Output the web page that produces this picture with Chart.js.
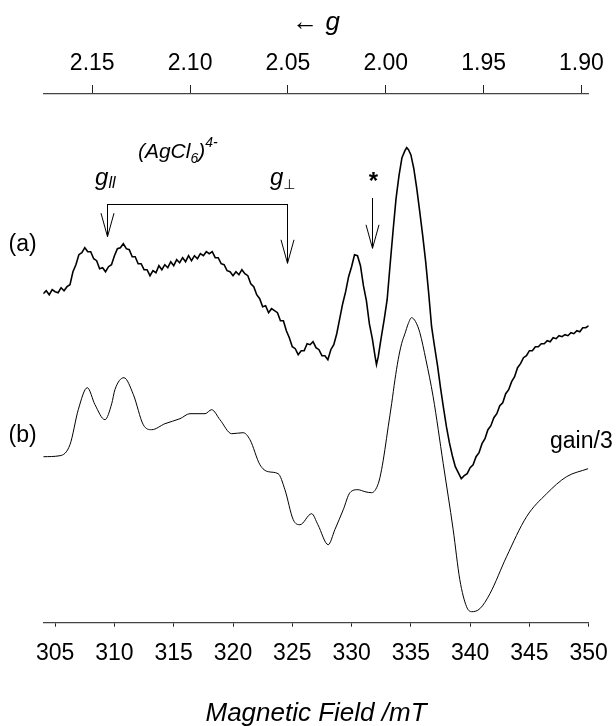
<!DOCTYPE html>
<html><head><meta charset="utf-8">
<script src="https://cdn.jsdelivr.net/npm/chart.js@4.4.0/dist/chart.umd.min.js"></script>
<style>html,body{margin:0;padding:0;background:#fff;}canvas{display:block;}</style>
</head><body>
<canvas id="c" width="616" height="726"></canvas>
<script>
// ---- tick labels ----
const fieldTicks = [305, 310, 315, 320, 325, 330, 335, 340, 345, 350];
const gTicks = [2.15, 2.10, 2.05, 2.00, 1.95, 1.90];

// ---- spectrum (a): magnetic field (mT) and signal (arbitrary units, offset) ----
const fieldA = [304.00,304.25,304.50,304.75,305.00,305.25,305.50,305.75,306.00,306.25,306.50,306.75,307.00,307.25,307.50,307.75,308.00,308.25,308.50,308.75,309.00,309.25,309.50,309.75,310.00,310.25,310.50,310.75,311.00,311.25,311.50,311.75,312.00,312.25,312.50,312.75,313.00,313.25,313.50,313.75,314.00,314.25,314.50,314.75,315.00,315.25,315.50,315.75,316.00,316.25,316.50,316.75,317.00,317.25,317.50,317.75,318.00,318.25,318.50,318.75,319.00,319.25,319.50,319.75,320.00,320.25,320.50,320.75,321.00,321.25,321.50,321.75,322.00,322.25,322.50,322.75,323.00,323.25,323.50,323.75,324.00,324.25,324.50,324.75,325.00,325.25,325.50,325.75,326.00,326.25,326.50,326.75,327.00,327.25,327.50,327.75,328.00,328.25,328.50,328.75,329.00,329.25,329.50,329.75,330.00,330.25,330.50,330.75,331.00,331.25,331.50,331.75,332.00,332.10,332.25,332.50,332.75,333.00,333.25,333.50,333.75,334.00,334.25,334.50,334.65,334.80,335.00,335.25,335.50,335.75,336.00,336.25,336.50,336.75,337.00,337.25,337.50,337.75,338.00,338.25,338.50,338.75,339.00,339.25,339.50,339.75,340.00,340.25,340.50,340.75,341.00,341.25,341.50,341.75,342.00,342.25,342.50,342.75,343.00,343.25,343.50,343.75,344.00,344.25,344.50,344.75,345.00,345.25,345.50,345.75,346.00,346.25,346.50,346.75,347.00,347.25,347.50,347.75,348.00,348.25,348.50,348.75,349.00,349.25,349.50,349.75,350.00];
const signalA = [329,332,328,333,331,330,335,332,336,
  338,351,358,368,370,375,371,371,
  364,362,354,355,351,356,358,367,
  374,375,379,374,373,366,366,359,
  359,353,353,347,352,350,357,353,
  358,355,361,357,363,360,365,361,
  367,362,367,364,369,367,371,369,
  371,365,365,359,358,352,351,347,
  351,348,353,349,347,339,336,328,
  324,316,317,310,314,312,310,302,
  302,292,285,276,274,268,272,272,
  279,278,281,275,273,267,267,263,
  273,278,289,304,319,331,346,356,
  368,367,357,337,322,299,284,265,
  258,266,285,303,323,358,392,424,447,465,472,
  475,473,
  468,454,434,411,387,361,330,296,276,
  257,235,215,196,180,167,156,150,
  144,147,149,155,158,166,170,179,
  184,193,197,205,209,217,220,229,
  233,241,246,255,259,265,267,272,
  272,276,276,279,279,282,281,285,
  284,287,286,288,287,290,289,292,
  291,295,295,297];

// ---- spectrum (b), gain/3 ----
const fieldB = [304.00,305.41,306.25,306.95,307.71,308.36,309.20,309.77,310.04,310.80,311.60,312.43,313.14,314.26,315.53,316.37,317.64,318.20,318.90,319.89,320.86,321.43,322.27,322.97,323.81,324.38,325.08,325.65,326.63,327.16,328.03,328.59,329.30,329.86,330.53,331.13,331.69,332.25,332.53,332.81,333.09,333.38,333.66,333.93,334.22,334.50,334.78,335.06,335.40,335.76,336.27,336.88,337.73,338.57,339.13,339.70,340.12,340.82,341.67,343.07,344.76,346.45,348.13,349.95];
const signalB = [166,167,178,213,235,218,203,219,233,245,228,198,193,199,204,209,209,213,203,189,190,183,158,151,149,133,103,98,109,98,78,93,113,130,133,131,130,139,153,173,196,219,243,263,279,289,299,305,301,290,263,226,159,93,43,16,11,14,29,66,106,129,146,154];

const FONT = '"Liberation Sans", Arial, Helvetica, sans-serif';

// annotation definitions (data coordinates: field mT, signal units)
const annotations = {
  traceLabels: [
    { text: '(a)', x: 302.25, y: 378 },
    { text: '(b)', x: 302.25, y: 187 },
    { text: 'gain/3', x: 349.38, y: 181 }
  ],
  bracket: { xL: 309.35, xR: 324.52, y: 418.7, tipL: 386, tipR: 359.4, head: 23.5 },
  star: { x: 331.76, top: 424.7, tip: 374.4, head: 23.5, labelY: 433.7 }
};

const annotPlugin = {
  id: 'annot',
  afterDatasetsDraw(chart) {
    const ctx = chart.ctx;
    const X = v => chart.scales.x.getPixelForValue(v);
    const Y = v => chart.scales.y.getPixelForValue(v);
    ctx.save();
    ctx.fillStyle = '#000';
    ctx.strokeStyle = '#000';
    ctx.lineWidth = 1;
    ctx.font = '23px ' + FONT;
    ctx.textAlign = 'center';
    ctx.textBaseline = 'middle';
    annotations.traceLabels.forEach(l => ctx.fillText(l.text, X(l.x), Y(l.y)));

    const arrow = (x, yTop, yTip, head) => {
      const px = Math.round(X(x)) + 0.5;
      ctx.beginPath();
      ctx.moveTo(px, Y(yTop)); ctx.lineTo(px, Y(yTip));
      ctx.moveTo(px - 6.5, Y(yTip + head)); ctx.lineTo(px, Y(yTip)); ctx.lineTo(px + 6.5, Y(yTip + head));
      ctx.stroke();
    };
    const b = annotations.bracket;
    const hy = Math.round(Y(b.y)) + 0.5;
    ctx.beginPath();
    ctx.moveTo(Math.round(X(b.xL)) + 0.5, hy); ctx.lineTo(Math.round(X(b.xR)) + 0.5, hy);
    ctx.stroke();
    arrow(b.xL, b.y, b.tipL, b.head);
    arrow(b.xR, b.y, b.tipR, b.head);
    const s = annotations.star;
    arrow(s.x, s.top, s.tip, s.head);
    ctx.font = 'bold 24px ' + FONT;
    ctx.textBaseline = 'alphabetic';
    ctx.fillText('*', X(s.x) + 1, Y(s.labelY));

    // (AgCl6)4-
    ctx.textAlign = 'left';
    let x0 = X(311.98), y0 = Y(464.7);
    ctx.font = 'italic 21px ' + FONT;
    ctx.fillText('(AgCl', x0, y0); x0 += ctx.measureText('(AgCl').width;
    ctx.font = 'italic 14px ' + FONT;
    ctx.fillText('6', x0, y0 + 5); x0 += ctx.measureText('6').width;
    ctx.font = 'italic 21px ' + FONT;
    ctx.fillText(')', x0, y0); x0 += ctx.measureText(')').width;
    ctx.font = 'italic 14px ' + FONT;
    ctx.fillText('4-', x0, y0 - 11);

    // g parallel
    x0 = X(308.37); y0 = Y(437.4);
    ctx.font = 'italic 24px ' + FONT;
    ctx.fillText('g', x0, y0); x0 += ctx.measureText('g').width;
    ctx.font = 'italic 16px ' + FONT;
    ctx.fillText('ll', x0, y0 + 3);
    // g perpendicular
    x0 = X(323.12);
    ctx.font = 'italic 24px ' + FONT;
    ctx.fillText('g', x0, y0); x0 += ctx.measureText('g').width;
    ctx.font = '14px "DejaVu Sans", sans-serif';
    ctx.fillText('\u22A5', x0, y0 + 4);
    ctx.restore();
  }
};

const noPad = sc => { sc.paddingLeft = 0; sc.paddingRight = 0; };

new Chart(document.getElementById('c'), {
  type: 'line',
  data: {
    datasets: [
      { label: '(a)', data: fieldA.map((v, i) => ({ x: v, y: signalA[i] })), borderColor: '#000', borderWidth: 1.6, pointRadius: 0, tension: 0, xAxisID: 'x', yAxisID: 'y' },
      { label: '(b)', data: fieldB.map((v, i) => ({ x: v, y: signalB[i] })), borderColor: '#000', borderWidth: 1, pointRadius: 0, cubicInterpolationMode: 'monotone', xAxisID: 'x', yAxisID: 'y' }
    ]
  },
  options: {
    responsive: false,
    animation: false,
    events: [],
    layout: { padding: { left: 43.3, right: 27.3, top: 0, bottom: 0 } },
    plugins: { legend: { display: false }, tooltip: { enabled: false } },
    scales: {
      x: {
        type: 'linear', position: 'bottom', min: 304, max: 350,
        afterBuildTicks: sc => { sc.ticks = fieldTicks.map(v => ({ value: v })); },
        afterFit: sc => { sc.height = 103.3; noPad(sc); },
        border: { display: true, color: '#444', width: 1.3 },
        grid: { drawOnChartArea: false, drawTicks: true, tickLength: 4, color: '#222', lineWidth: 1 },
        ticks: { color: '#000', padding: 13.5, maxRotation: 0, autoSkip: false, font: { family: FONT, size: 23 }, callback: v => String(v) },
        title: { display: true, text: 'Magnetic Field /mT', color: '#000', padding: { top: 0, bottom: 0 }, font: { family: FONT, size: 26, style: 'italic', lineHeight: 0.92 } }
      },
      g: {
        type: 'linear', position: 'top', axis: 'x', reverse: true, min: 1.8963, max: 2.175,
        afterBuildTicks: sc => { sc.ticks = gTicks.map(v => ({ value: v })); },
        afterFit: sc => { sc.height = 94; noPad(sc); },
        border: { display: true, color: '#444', width: 1.3 },
        grid: { drawOnChartArea: false, drawTicks: true, tickLength: 9, color: '#222', lineWidth: 1 },
        ticks: { color: '#000', padding: 7.2, maxRotation: 0, autoSkip: false, font: { family: FONT, size: 23 }, callback: v => v.toFixed(2) },
        title: { display: true, text: '\u2190 g', color: '#000', padding: { top: 10, bottom: 0 }, font: { family: FONT, size: 26, style: 'italic', lineHeight: 1 } }
      },
      y: { type: 'linear', display: false, min: 0, max: 528.7 }
    }
  },
  plugins: [annotPlugin]
});
</script>
</body></html>
